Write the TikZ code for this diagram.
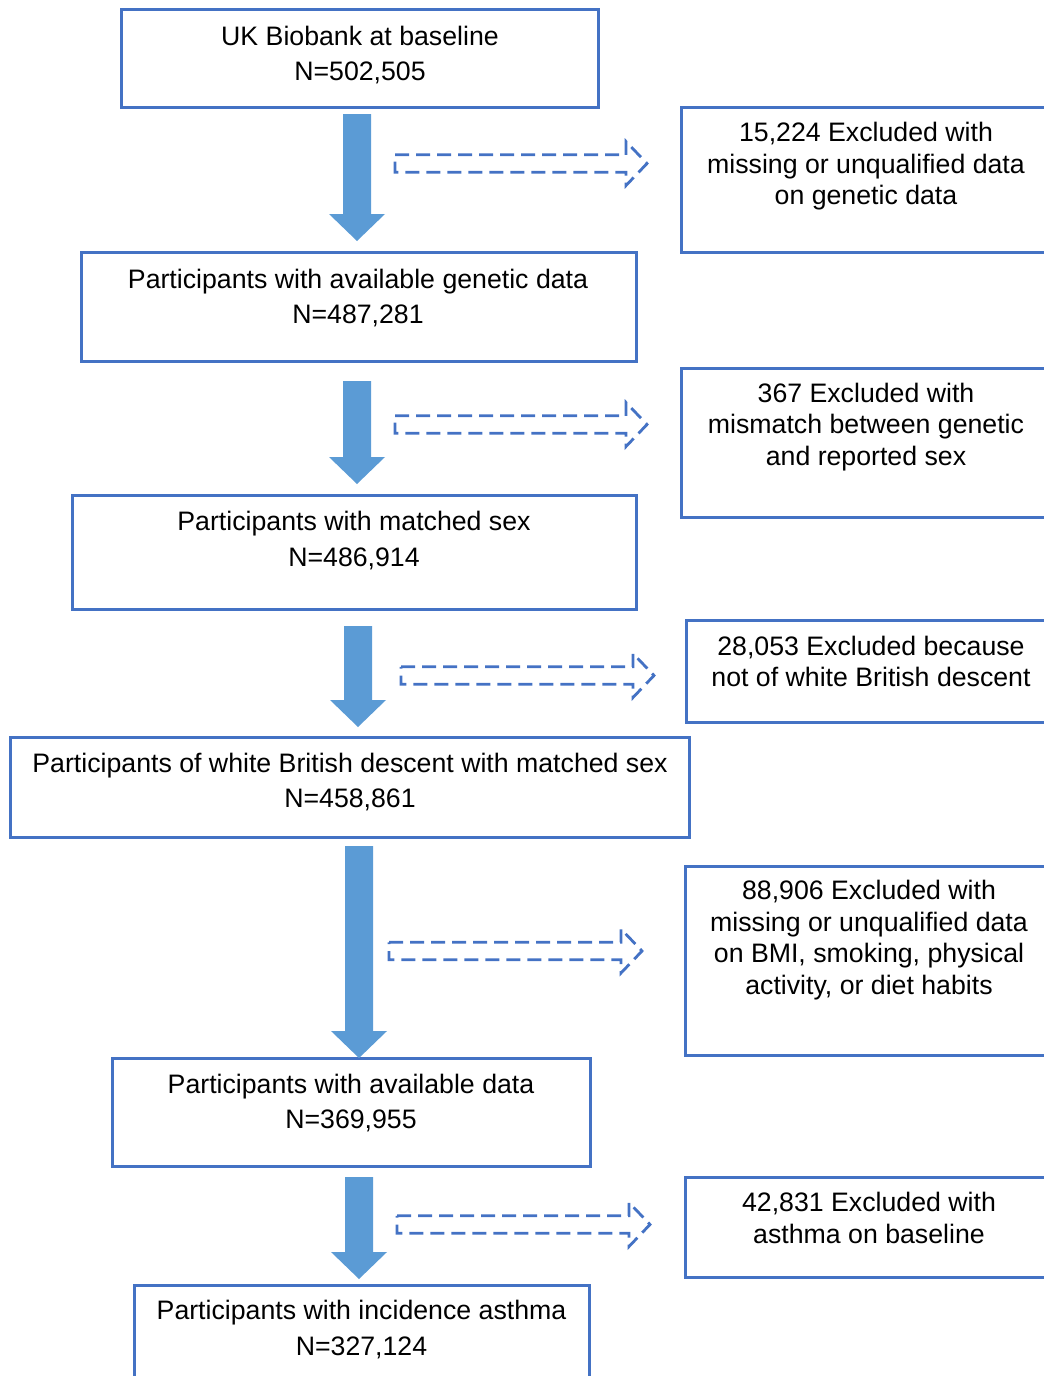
\documentclass[tikz,border=0pt]{standalone}
\usepackage{fontspec}
\setmainfont{Liberation Sans}
\usetikzlibrary{fit}
\definecolor{boxblue}{HTML}{4472C4}
\definecolor{fatblue}{HTML}{5B9BD5}
\tikzset{
  box/.style={draw=boxblue, line width=3pt, inner sep=0pt, fit={#1}},
  ltxt/.style={align=center, inner sep=0pt, font={\fontsize{26.7}{35.5}\selectfont}},
  rtxt/.style={align=center, inner sep=0pt, font={\fontsize{26.7}{31.5}\selectfont}},
  fat/.style={fill=fatblue, draw=none},
  hollow/.style={draw=boxblue, line width=2.8pt, dash pattern=on 14pt off 7pt, line join=miter}
}
\newcommand\fatarrow[3]{% xc, ytop, ytip
  \fill[fat] (#1-14,#2) -- (#1+14,#2) -- (#1+14,#3-27) -- (#1+28,#3-27) -- (#1,#3)
    -- (#1-28,#3-27) -- (#1-14,#3-27) -- cycle;}
\newcommand\hollowarrow[3]{% xstart, xtip, yc
  \draw[hollow] (#1,#3-8.7) -- (#2-21,#3-8.7) -- (#2-21,#3-22) -- (#2,#3)
    -- (#2-21,#3+22) -- (#2-21,#3+8.7) -- (#1,#3+8.7) -- cycle;}
\begin{document}
\begin{tikzpicture}[x=1pt,y=-1pt]
\useasboundingbox (0,0) rectangle (1044,1376);
\clip (0,0) rectangle (1044,1376);
% left boxes
\node[box={(121,9)(598,107)}] (b1) {};
\node[box={(81,252)(636,361)}] (b2) {};
\node[box={(72,495)(636,609)}] (b3) {};
\node[box={(10,737)(689,837)}] (b4) {};
\node[box={(112,1058)(590,1166)}] (b5) {};
\node[box={(134,1285)(589,1400)}] (b6) {};
% right boxes
\node[box={(681,107)(1070,252)}] (r1) {};
\node[box={(681,368)(1070,517)}] (r2) {};
\node[box={(686,620)(1070,722)}] (r3) {};
\node[box={(685,866)(1070,1055)}] (r4) {};
\node[box={(685,1177)(1070,1277)}] (r5) {};
% texts
\node[ltxt] (t1) at (360,55) {UK Biobank at baseline\\N=502,505};
\node[ltxt] (t2) at (358,298) {Participants with available genetic data\\N=487,281};
\node[ltxt] (t3) at (354,540.5) {Participants with matched sex\\N=486,914};
\node[ltxt] (t4) at (350,782) {Participants of white British descent with matched sex\\N=458,861};
\node[ltxt] (t5) at (351,1103) {Participants with available data\\N=369,955};
\node[ltxt] (t6) at (361.5,1329.5) {Participants with incidence asthma\\N=327,124};
\node[rtxt] (s1) at (866,166.5) {15,224 Excluded with\\missing or unqualified data\\on genetic data};
\node[rtxt] (s2) at (866,427) {367 Excluded with\\mismatch between genetic\\and reported sex};
\node[rtxt] (s3) at (871,661.5) {28,053 Excluded because\\not of white British descent};
\node[rtxt] (s4) at (869,940) {88,906 Excluded with\\missing or unqualified data\\on BMI, smoking, physical\\activity, or diet habits};
\node[rtxt] (s5) at (869,1218) {42,831 Excluded with\\asthma on baseline};
% fat arrows
\fatarrow{357}{114}{241}
\fatarrow{357}{381}{484}
\fatarrow{358}{626}{727}
\fatarrow{359}{846}{1058}
\fatarrow{359}{1177}{1279}
% dashed hollow arrows
\hollowarrow{395}{647}{163.5}
\hollowarrow{395}{647}{424.5}
\hollowarrow{401}{654}{675.5}
\hollowarrow{389}{642}{951}
\hollowarrow{397}{650}{1224.5}
\end{tikzpicture}
\end{document}
